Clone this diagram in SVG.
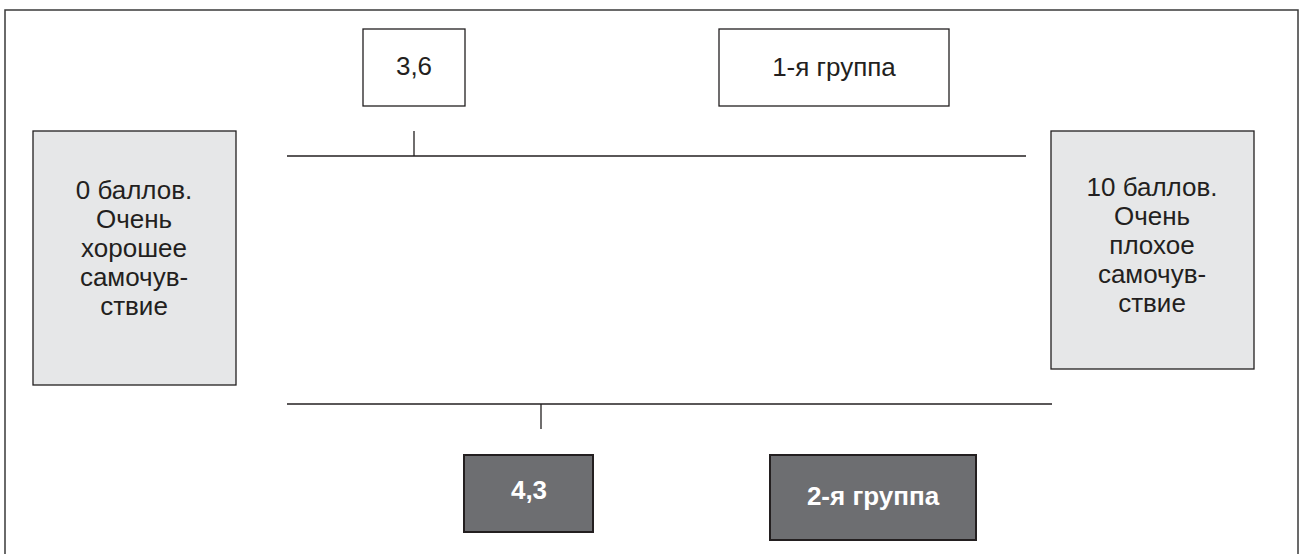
<svg xmlns="http://www.w3.org/2000/svg" width="1306" height="554" viewBox="0 0 1306 554">
<style>
.frame{fill:#fff;stroke:#3a3a3a;stroke-width:1.5}
.w{fill:#fff;stroke:#231f20;stroke-width:1.3}
.l{fill:#e6e7e8;stroke:#231f20;stroke-width:1.3}
.d{fill:#6d6e71;stroke:#231f20;stroke-width:2}
.t{font-family:"Liberation Sans",Arial,sans-serif;font-size:26px;fill:#231f20;text-anchor:middle}
.b{font-family:"Liberation Sans",Arial,sans-serif;font-size:26px;font-weight:bold;fill:#fff;text-anchor:middle}
.c{stroke:#231f20;stroke-width:1.3;fill:none}
</style>
<rect width="1306" height="554" fill="#fff"/>
<rect class="frame" x="5" y="10" width="1293" height="560"/>
<g id="connectors">
<line class="c" x1="287" y1="156" x2="1026" y2="156"/>
<line class="c" x1="414" y1="131" x2="414" y2="156"/>
<line class="c" x1="287" y1="404" x2="1052" y2="404"/>
<line class="c" x1="541" y1="404" x2="541" y2="429"/>
</g>
<g id="n36"><rect class="w" x="363" y="29" width="102" height="77"/><text class="t" x="414" y="75">3,6</text></g>
<g id="g1"><rect class="w" x="719" y="29" width="230" height="77"/><text class="t" x="834" y="76">1-я группа</text></g>
<g id="left"><rect class="l" x="33" y="131" width="203" height="254"/>
<text class="t" x="134" y="199">0 баллов.</text>
<text class="t" x="134" y="228">Очень</text>
<text class="t" x="134" y="257">хорошее</text>
<text class="t" x="134" y="286">самочув-</text>
<text class="t" x="134" y="315">ствие</text></g>
<g id="right"><rect class="l" x="1051" y="131" width="203" height="238"/>
<text class="t" x="1152" y="196">10 баллов.</text>
<text class="t" x="1152" y="225">Очень</text>
<text class="t" x="1152" y="254">плохое</text>
<text class="t" x="1152" y="283">самочув-</text>
<text class="t" x="1152" y="312">ствие</text></g>
<g id="n43"><rect class="d" x="464" y="455" width="129" height="77"/><text class="b" x="529" y="499">4,3</text></g>
<g id="g2"><rect class="d" x="770" y="455" width="206" height="85"/><text class="b" x="873" y="505">2-я группа</text></g>
</svg>
